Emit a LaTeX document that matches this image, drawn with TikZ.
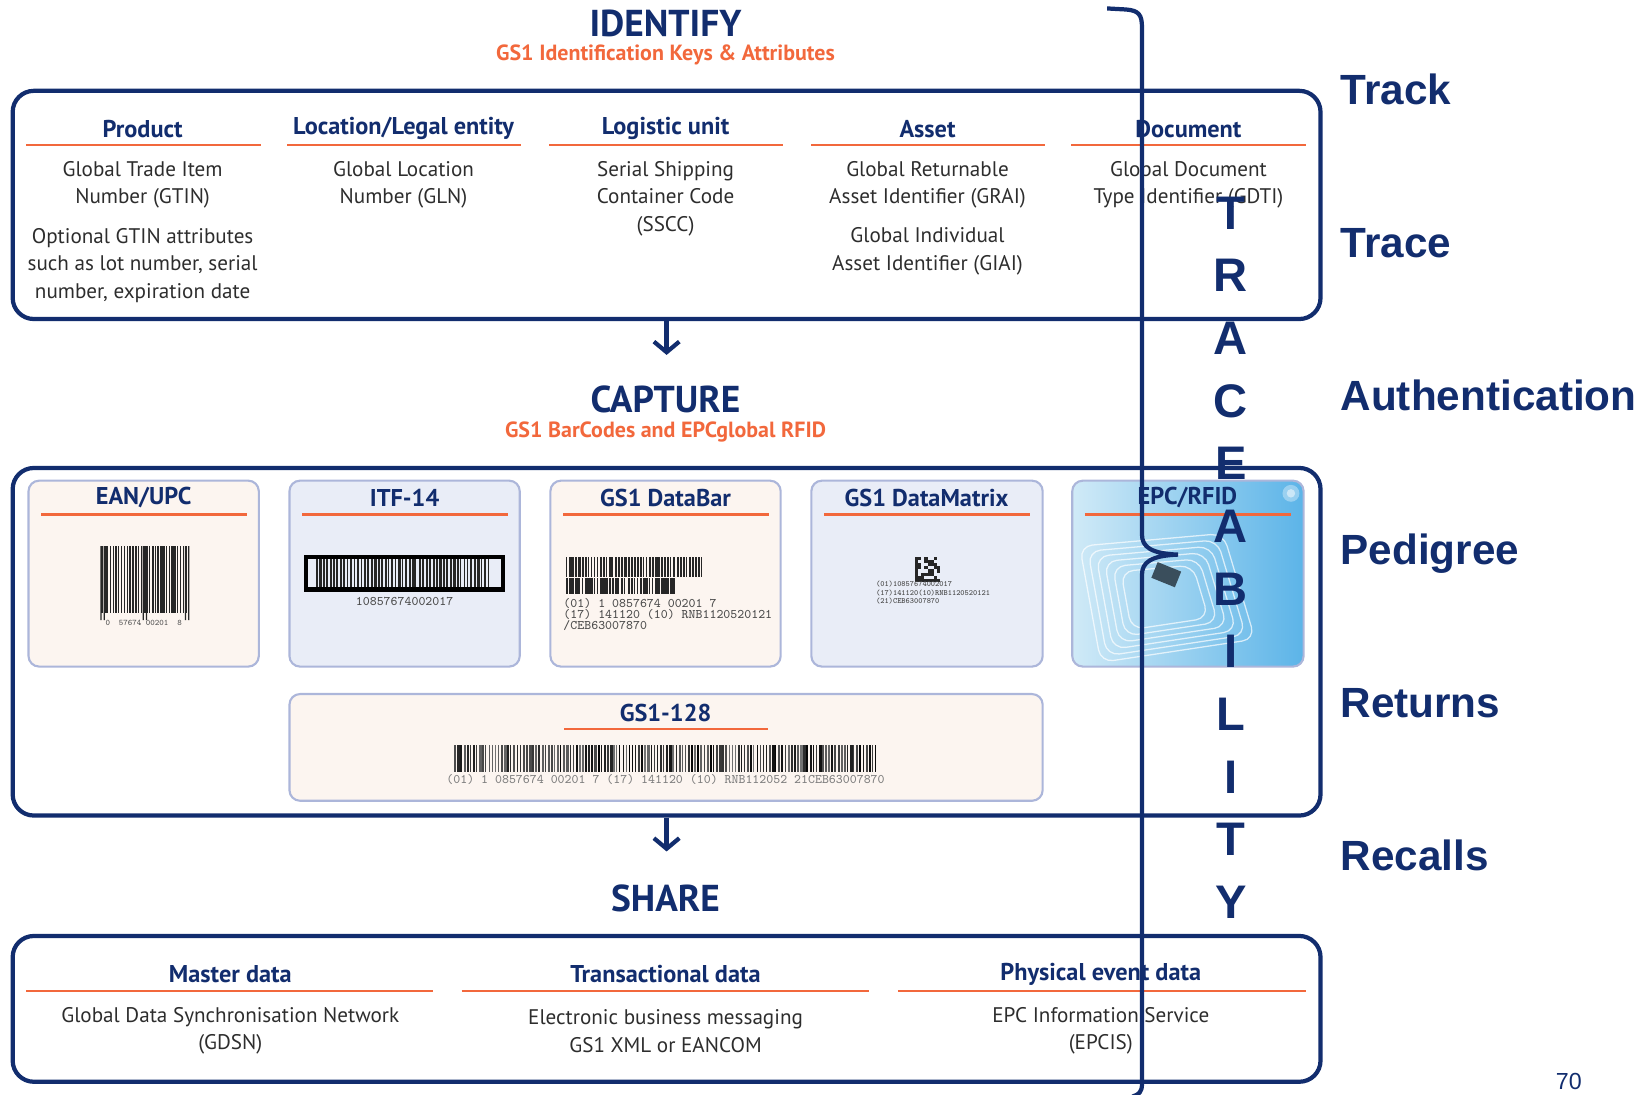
\documentclass[tikz,border=0pt]{standalone}
\usepackage{fontspec}
\setmainfont{PT Sans}
\newfontfamily\labelfont{Liberation Sans}
\usetikzlibrary{arrows.meta,fit}

\definecolor{gsblue}{RGB}{18,45,110}
\definecolor{gsorange}{RGB}{242,104,60}
\definecolor{bodygrey}{RGB}{45,45,45}
\definecolor{peach}{RGB}{252,245,240}
\definecolor{paleblue}{RGB}{233,237,247}
\definecolor{cardline}{RGB}{172,182,218}
\definecolor{rfidlight}{RGB}{208,234,247}
\definecolor{rfiddeep}{RGB}{92,180,232}
\definecolor{chipcol}{RGB}{58,78,92}

\tikzset{
  bigbox/.style={draw=gsblue, line width=2pt, rounded corners=10pt, inner sep=0pt},
  card/.style={draw=cardline, line width=1pt, rounded corners=5pt, inner sep=0pt},
  stage/.style={text=gsblue, font=\fontsize{17.7}{17.7}\selectfont\bfseries},
  keys/.style={text=gsorange, font=\fontsize{10.4}{10.4}\selectfont\bfseries},
  colhead/.style={text=gsblue, font=\fontsize{11.5}{11.5}\selectfont\bfseries},
  coltext/.style={text=bodygrey, align=center, inner sep=0pt, font=\fontsize{10}{13}\selectfont},
  orangerule/.style={draw=gsorange, line width=1pt},
  bar/.style={fill=black!85},
  tinycode/.style={text=black!70, inner sep=0pt, font=\ttfamily\fontsize{6.2}{5.3}\selectfont},
  flow/.style={draw=gsblue, line width=2pt, -{Straight Barb[length=5pt,width=12pt]}},
  brace/.style={draw=gsblue, line width=2pt},
  benefit/.style={anchor=base west, text=gsblue, font=\labelfont\fontsize{20}{20}\selectfont\bfseries}
}

\begin{document}
\begin{tikzpicture}[x=0.5pt, y=-0.5pt]
\useasboundingbox (0,0) rectangle (1560,1036);

% IDENTIFY
\node[stage] (identify) at (630,22) {IDENTIFY};
\node[keys] (idkeys) at (630,52) {GS1 Identification Keys \& Attributes};
\node[bigbox, fit={(12,86) (1250,302)}] (idbox) {};

\node[colhead] (product) at (135,122) {Product};
\node[colhead] (location) at (382,122) {Location/Legal entity};
\node[colhead] (logistic) at (630,122) {Logistic unit};
\node[colhead] (asset) at (878,122) {Asset};
\node[colhead] (document) at (1125,122) {Document};
\foreach \a/\b in {25/247, 272/493, 520/741, 768/989, 1014/1236}
  \draw[orangerule] (\a,137) -- (\b,137);

\node[coltext] (gtin) at (135,175) {Global Trade Item\\Number (GTIN)};
\node[coltext] (gtinattr) at (135,251) {Optional GTIN attributes\\such as lot number, serial\\number, expiration date};
\node[coltext] (gln) at (382,175) {Global Location\\Number (GLN)};
\node[coltext] (sscc) at (630,188) {Serial Shipping\\Container Code\\(SSCC)};
\node[coltext] (grai) at (878,175) {Global Returnable\\Asset Identifier (GRAI)};
\node[coltext] (giai) at (878,238) {Global Individual\\Asset Identifier (GIAI)};
\node[coltext] (gdti) at (1125,175) {Global Document\\Type Identifier (GDTI)};

\coordinate (capin) at (631,336);
\draw[flow] (idbox.south) -- (capin);

% CAPTURE
\node[stage] (capture) at (630,378) {CAPTURE};
\node[keys] (capkeys) at (630,409) {GS1 BarCodes and EPCglobal RFID};
\node[bigbox, fit={(12,443) (1250,772)}] (capbox) {};

\node[card, fill=peach, fit={(27,455) (245,631)}] (eancard) {};
\node[card, fill=paleblue, fit={(274,455) (492,631)}] (itfcard) {};
\node[card, fill=peach, fit={(521,455) (739,631)}] (barcard) {};
\node[card, fill=paleblue, fit={(768,455) (987,631)}] (matrixcard) {};
\node[card, left color=rfidlight, right color=rfiddeep, fit={(1015,455) (1234,631)}] (rfidcard) {};
\node[card, fill=peach, fit={(274,657) (987,758)}] (gscard) {};

% rfid antenna and chip
\foreach \s in {1,0.9,0.8,0.7,0.6,0.5}
  \draw[white, opacity=0.7, line width=0.6pt, rounded corners=6pt, shift={(1100,565)}, scale=\s]
    (-78,-48) -- (58,-60) -- (88,40) -- (-58,62) -- cycle;
\fill[chipcol, rotate around={-22:(1104,544)}] (1092,536) rectangle (1116,552);
\fill[white, opacity=0.35] (1222,467) circle (8);
\fill[white, opacity=0.5] (1222,467) circle (4);

\node[colhead] (ean) at (136,471) {EAN/UPC};
\node[colhead] (itf) at (383,471) {ITF-14};
\node[colhead] (databar) at (630,471) {GS1 DataBar};
\node[colhead] (datamatrix) at (877,471) {GS1 DataMatrix};
\node[colhead] (epc) at (1124,471) {EPC/RFID};
\foreach \a in {27,274,521,768,1015}
  \draw[orangerule] (\a+12,487) -- (\a+207,487);
\node[colhead] (gs128) at (630,675) {GS1-128};
\draw[orangerule] (534,690) -- (727,690);

% EAN/UPC bars
\pgfmathsetseed{5}
\foreach \k in {0,...,30}{
  \pgfmathsetmacro\bw{0.7+1.7*rnd}
  \fill[bar] (96+2.65*\k,517) rectangle ++(\bw,63);
}
\foreach \g in {95,135,175}
  \fill[bar] (\g,517) rectangle ++(1.2,70) (\g+3,517) rectangle ++(1.2,70);
\node[tinycode, font=\ttfamily\fontsize{4}{4}\selectfont] (eannum) at (136,590) {0 \ 57674 00201 \ 8};

% ITF-14 bars
\draw[black, line width=2pt] (290,527) rectangle (476,558);
\foreach \k in {0,...,50}{
  \pgfmathsetmacro\bw{0.8+1.9*rnd}
  \fill[bar] (299+3.25*\k,529) rectangle ++(\bw,27);
}
\node[tinycode] (itfnum) at (383,569) {10857674002017};

% GS1 DataBar
\foreach \k in {0,...,44}{
  \pgfmathsetmacro\bw{0.8+2*rnd}
  \fill[bar] (536+2.9*\k,527) rectangle ++(\bw,19);
}
\foreach \k in {0,...,35}{
  \pgfmathsetmacro\bw{0.8+2*rnd}
  \fill[bar] (536+2.9*\k,547) rectangle ++(\bw,15);
}
\node[tinycode, anchor=north west, align=left] (barnum) at (533,566)
  {(01) 1 0857674 00201 7\\(17) 141120 (10) RNB1120520121\\/CEB63007870};

% GS1 DataMatrix
\foreach \i in {0,...,7}{
  \foreach \j in {0,...,7}{
    \pgfmathtruncatemacro\on{(rnd>0.5)||(\i==0)||(\j==7)}
    \ifnum\on=1 \fill[bar] (866+3*\i,527+3*\j) rectangle ++(3,3); \fi
  }
}
\node[tinycode, anchor=north west, align=left, font=\ttfamily\bfseries\fontsize{3.8}{4}\selectfont] (matrixnum) at (829,550)
  {(01)10857674002017\\(17)141120(10)RNB1120520121\\(21)CEB63007870};

% GS1-128
\foreach \k in {0,...,135}{
  \pgfmathsetmacro\bw{0.6+2*rnd}
  \pgfmathsetmacro\sh{55+45*rnd}
  \fill[black!\sh] (430+2.95*\k,705) rectangle ++(\bw,26);
}
\node[tinycode, text=black!50] (gsnum) at (630,738) {(01) 1 0857674 00201 7 (17) 141120 (10) RNB112052 21CEB63007870};

\coordinate (sharein) at (631,806);
\draw[flow] (capbox.south) -- (sharein);

% SHARE
\node[stage] (share) at (630,850) {SHARE};
\node[bigbox, fit={(12,886) (1250,1024)}] (sharebox) {};

\node[colhead] (master) at (218,922) {Master data};
\node[colhead] (transact) at (630,922) {Transactional data};
\node[colhead] (physical) at (1042,922) {Physical event data};
\foreach \a/\b in {25/410, 437/823, 850/1236}
  \draw[orangerule] (\a,938) -- (\b,938);
\node[coltext] (gdsn) at (218,976) {Global Data Synchronisation Network\\(GDSN)};
\node[coltext] (ebm) at (630,976) {Electronic business messaging\\GS1 XML or EANCOM};
\node[coltext] (epcis) at (1042,976) {EPC Information Service\\(EPCIS)};

% traceability brace
\draw[brace] (1048,8) -- (1066,9) .. controls (1078,10) and (1081,14) .. (1081,26)
  -- (1081,506) .. controls (1081,518) and (1090,524) .. (1115,525)
  .. controls (1090,526) and (1081,532) .. (1081,544)
  -- (1081,1026) .. controls (1081,1034) and (1078,1036) .. (1072,1038);

\node[anchor=north, inner sep=0pt, align=center, text=gsblue,
  font=\labelfont\fontsize{22.3}{29.65}\selectfont\bfseries] (traceability) at (1165,186)
  {T\\R\\A\\C\\E\\A\\B\\I\\L\\I\\T\\Y};

\node[benefit] (track) at (1262,99) {Track};
\node[benefit] (trace) at (1262,244) {Trace};
\node[benefit] (authentication) at (1262,389) {Authentication};
\node[benefit] (pedigree) at (1262,534) {Pedigree};
\node[benefit] (returns) at (1262,679) {Returns};
\node[benefit] (recalls) at (1262,824) {Recalls};

\node[text=gsblue, font=\labelfont\fontsize{11}{11}\selectfont] (page) at (1485,1024) {70};
\end{tikzpicture}
\end{document}
